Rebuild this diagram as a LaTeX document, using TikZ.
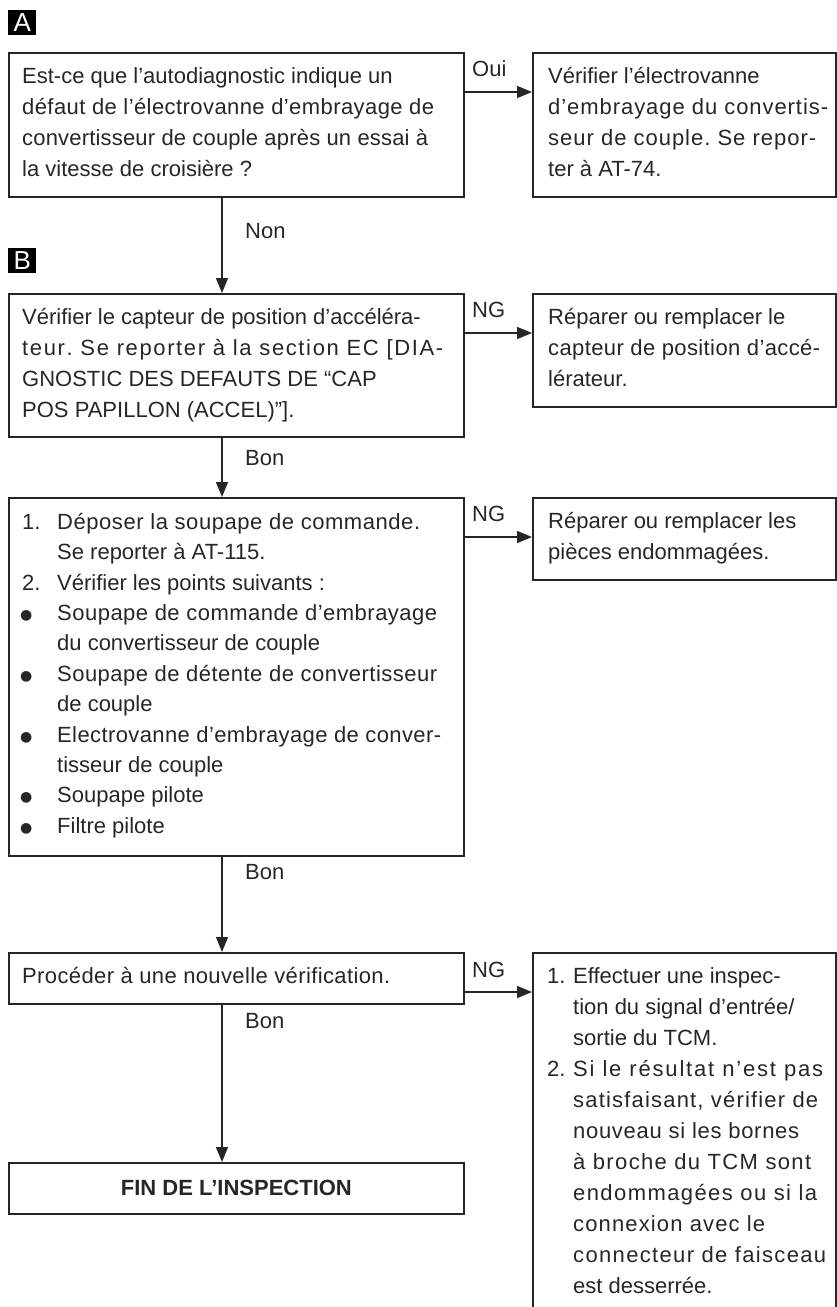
\documentclass[tikz,border=0pt]{standalone}
\usepackage{fontspec}
\setmainfont{Liberation Sans}
\newfontfamily\symfont{DejaVu Sans}
\usetikzlibrary{arrows.meta}
\definecolor{ink}{HTML}{262626}
\XeTeXinterchartoks 0 0 = {\hskip 0pt plus 1pt\relax}
\frenchspacing
\tikzset{
  box/.style={draw=ink, line width=1.7pt, rectangle, inner sep=0pt, anchor=north west},
  txt/.style={inner sep=0pt, anchor=north west, align=left, text=ink, font=\fontsize{22}{31}\selectfont},
  lbl/.style={inner sep=0pt, anchor=base west, text=ink, font=\fontsize{22}{31}\selectfont},
  arr/.style={draw=ink, line width=1.5pt, -{Triangle[length=15pt,width=12pt]}},
  tag/.style={fill=black, text=white, inner sep=0pt, minimum width=28pt, minimum height=25pt, anchor=north west, font=\fontsize{26}{26}\selectfont},
}
\newcommand{\bx}[5]{\node[box, minimum width={#4-#2}, minimum height={#5-#3}] (#1) at (#2,#3) {};}
\newcommand{\fl}{\rule{0pt}{20pt}}
% justified line: letters and spaces spread evenly to the given width
\newcommand{\jl}[2]{\hbox to #1pt{\frenchspacing\XeTeXinterchartokenstate=1 \spaceskip=0.278em plus 1pt\relax #2}}
\newcommand{\hc}[1]{\makebox[35pt][l]{#1}}
\newcommand{\hd}[1]{\makebox[26pt][l]{#1}}
\newcommand{\bul}{\hspace*{-2pt}\raisebox{1pt}{\symfont\fontsize{14}{14}\selectfont ●}}
\begin{document}
\begin{tikzpicture}[x=1pt,y=-1pt]
\useasboundingbox (0,0) rectangle (837,1307);
% markers
\node[tag] (ta) at (8,10) {A};
\node[tag] (tb) at (8,248) {B};
% boxes
\bx{a1}{8}{52}{463}{196}
\bx{a2}{532}{52}{835}{196}
\bx{b1}{8}{293}{463}{436}
\bx{b2}{532}{293}{835}{406}
\bx{c1}{8}{497}{463}{855}
\bx{c2}{532}{497}{835}{579}
\bx{d1}{8}{952}{463}{1003}
\bx{d2}{532}{952}{835}{1330}
\bx{e1}{8}{1162}{463}{1213}
% texts
\node[txt] (a1t) at (22,63) {\fl Est-ce que l’autodiagnostic indique un\\
\jl{412}{défaut de l’électrovanne d’embrayage de}\\
\jl{406}{convertisseur de couple après un essai à}\\
la vitesse de croisière ?};
\node[txt] (a2t) at (548,63) {\fl Vérifier l’électrovanne\\
\jl{280}{d’embrayage du convertis-}\\
\jl{268}{seur de couple. Se repor-}\\
ter à AT-74.};
\node[txt] (b1t) at (22,304) {\fl Vérifier le capteur de position d’accéléra-\\
\jl{421}{teur. Se reporter à la section EC [DIA-}\\
GNOSTIC DES DEFAUTS DE “CAP\\
POS PAPILLON (ACCEL)”].};
\node[txt] (b2t) at (548,304) {\fl Réparer ou remplacer le\\
\jl{272}{capteur de position d’accé-}\\
lérateur.};
\node[txt, font=\fontsize{22}{30.4}\selectfont] (c1t) at (22,509) {%
\fl\hc{1.}\jl{363}{Déposer la soupape de commande.}\\
\hc{}Se reporter à AT-115.\\
\hc{2.}Vérifier les points suivants :\\
\hc{\bul}\jl{380}{Soupape de commande d’embrayage}\\
\hc{}du convertisseur de couple\\
\hc{\bul}\jl{380}{Soupape de détente de convertisseur}\\
\hc{}de couple\\
\hc{\bul}\jl{384}{Electrovanne d’embrayage de conver-}\\
\hc{}tisseur de couple\\
\hc{\bul}Soupape pilote\\
\hc{\bul}Filtre pilote};
\node[txt] (c2t) at (548,508) {\fl Réparer ou remplacer les\\
pièces endommagées.};
\node[txt] (d1t) at (22,963) {\fl\jl{368}{Procéder à une nouvelle vérification.}};
\node[txt] (d2t) at (547,963) {%
\fl\hd{1.}Effectuer une inspec-\\
\hd{}tion du signal d’entrée/\\
\hd{}sortie du TCM.\\
\hd{2.}\jl{250}{Si le résultat n’est pas}\\
\hd{}\jl{245}{satisfaisant, vérifier de}\\
\hd{}\jl{226}{nouveau si les bornes}\\
\hd{}\jl{238}{à broche du TCM sont}\\
\hd{}\jl{244}{endommagées ou si la}\\
\hd{}\jl{192}{connexion avec le}\\
\hd{}\jl{253}{connecteur de faisceau}\\
\hd{}est desserrée.};
\node[inner sep=0pt, text=ink, font=\fontsize{22}{31}\selectfont\bfseries] (e1t) at (e1.center) {FIN DE L’INSPECTION};
% connectors
\draw[arr] ([yshift=-40pt]a1.north east) -- ([yshift=-40pt]a2.north west);
\draw[arr] ([yshift=-40pt]b1.north east) -- ([yshift=-40pt]b2.north west);
\draw[arr] ([yshift=-40pt]c1.north east) -- ([yshift=-40pt]c2.north west);
\draw[arr] ([yshift=-40pt]d1.north east) -- ([yshift=-40pt]d2.north west);
\draw[arr] ([xshift=214pt]a1.south west) -- ([xshift=214pt]b1.north west);
\draw[arr] ([xshift=214pt]b1.south west) -- ([xshift=214pt]c1.north west);
\draw[arr] ([xshift=214pt]c1.south west) -- ([xshift=214pt]d1.north west);
\draw[arr] ([xshift=214pt]d1.south west) -- ([xshift=214pt]e1.north west);
% labels
\node[lbl] (loui) at (472,76) {Oui};
\node[lbl] (lng1) at (472,317) {NG};
\node[lbl] (lng2) at (472,521) {NG};
\node[lbl] (lng3) at (472,977) {NG};
\node[lbl] (lnon) at (245,238) {Non};
\node[lbl] (lbon1) at (245,465) {Bon};
\node[lbl] (lbon2) at (245,879) {Bon};
\node[lbl] (lbon3) at (245,1028) {Bon};
\end{tikzpicture}
\end{document}
